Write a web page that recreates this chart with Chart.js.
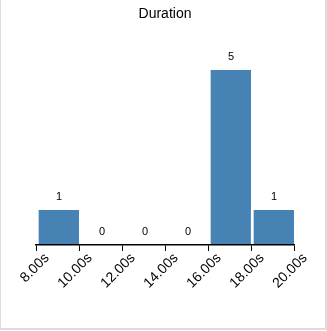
<!DOCTYPE html>
<html>
<head>
<meta charset="utf-8">
<script src="https://cdn.jsdelivr.net/npm/chart.js@4.4.0/dist/chart.umd.min.js"></script>
<style>
  body { margin: 0; background: #fff; }
  #wrap { position: relative; width: 327px; height: 331px; }
  #frame { position: absolute; left: 0; top: 0; width: 324px; height: 328px;
           border-left: 1px solid #ddd; border-right: 2px solid #ddd; border-bottom: 2px solid #ddd;
           pointer-events: none; }
</style>
</head>
<body>
<div id="wrap">
  <canvas id="graphique" width="327" height="331"></canvas>
  <div id="frame"></div>
</div>
<script>
// bins de 2 secondes : centre de chaque classe et effectif
const binCenters = [9, 11, 13, 15, 17, 19];
const counts = [1, 0, 0, 0, 5, 1];
const tickValues = [8, 10, 12, 14, 16, 18, 20];

const FONT = "'Liberation Sans', Arial, sans-serif";

// étiquettes de valeur au-dessus de chaque barre
const valueLabels = {
  id: 'valueLabels',
  afterDatasetsDraw(chart) {
    const ctx = chart.ctx;
    const meta = chart.getDatasetMeta(0);
    ctx.save();
    ctx.font = '11px ' + FONT;
    ctx.fillStyle = '#000';
    ctx.textAlign = 'center';
    ctx.textBaseline = 'middle';
    meta.data.forEach((bar, i) => {
      ctx.fillText(String(counts[i]), bar.x + 1.5, bar.y - 13);
    });
    ctx.restore();
  }
};

const ctx = document.getElementById('graphique').getContext('2d');

window.myChart = new Chart(ctx, {
  type: 'bar',
  data: {
    datasets: [{
      data: binCenters.map((x, i) => ({ x: x, y: counts[i] })),
      backgroundColor: '#4682b4',
      borderColor: '#ffffff',
      borderWidth: { left: 3, top: 0, right: 0, bottom: 0 },
      borderSkipped: false,
      barPercentage: 1,
      categoryPercentage: 1
    }]
  },
  options: {
    responsive: false,
    animation: false,
    layout: { padding: { left: 36, right: 33, top: 0, bottom: 0 } },
    plugins: {
      legend: { display: false },
      tooltip: { enabled: false },
      title: {
        display: true,
        text: 'Duration',
        color: '#000',
        font: { family: FONT, size: 14, weight: 'normal' },
        padding: { top: 6, bottom: 47.2 }
      }
    },
    scales: {
      x: {
        type: 'linear',
        min: 8,
        max: 20,
        offset: false,
        afterBuildTicks(scale) {
          scale.ticks = tickValues.map(v => ({ value: v }));
        },
        afterFit(scale) {
          scale.paddingLeft = 0;
          scale.paddingRight = 0;
          scale.height = 86;
        },
        grid: {
          z: 1,
          offset: false,
          drawOnChartArea: false,
          drawTicks: true,
          tickLength: 6,
          color: '#000',
          lineWidth: 1
        },
        border: { display: true, color: '#000', width: 1.5, z: 1 }, // axe par-dessus les barres
        ticks: {
          autoSkip: false,
          minRotation: 45,
          maxRotation: 45,
          color: '#000',
          padding: -1,
          labelOffset: 11,
          font: { family: FONT, size: 14 },
          callback: v => v.toFixed(2) + 's'
        }
      },
      y: {
        display: false,
        min: 0,
        max: 5
      }
    }
  },
  plugins: [valueLabels]
});
</script>
</body>
</html>
